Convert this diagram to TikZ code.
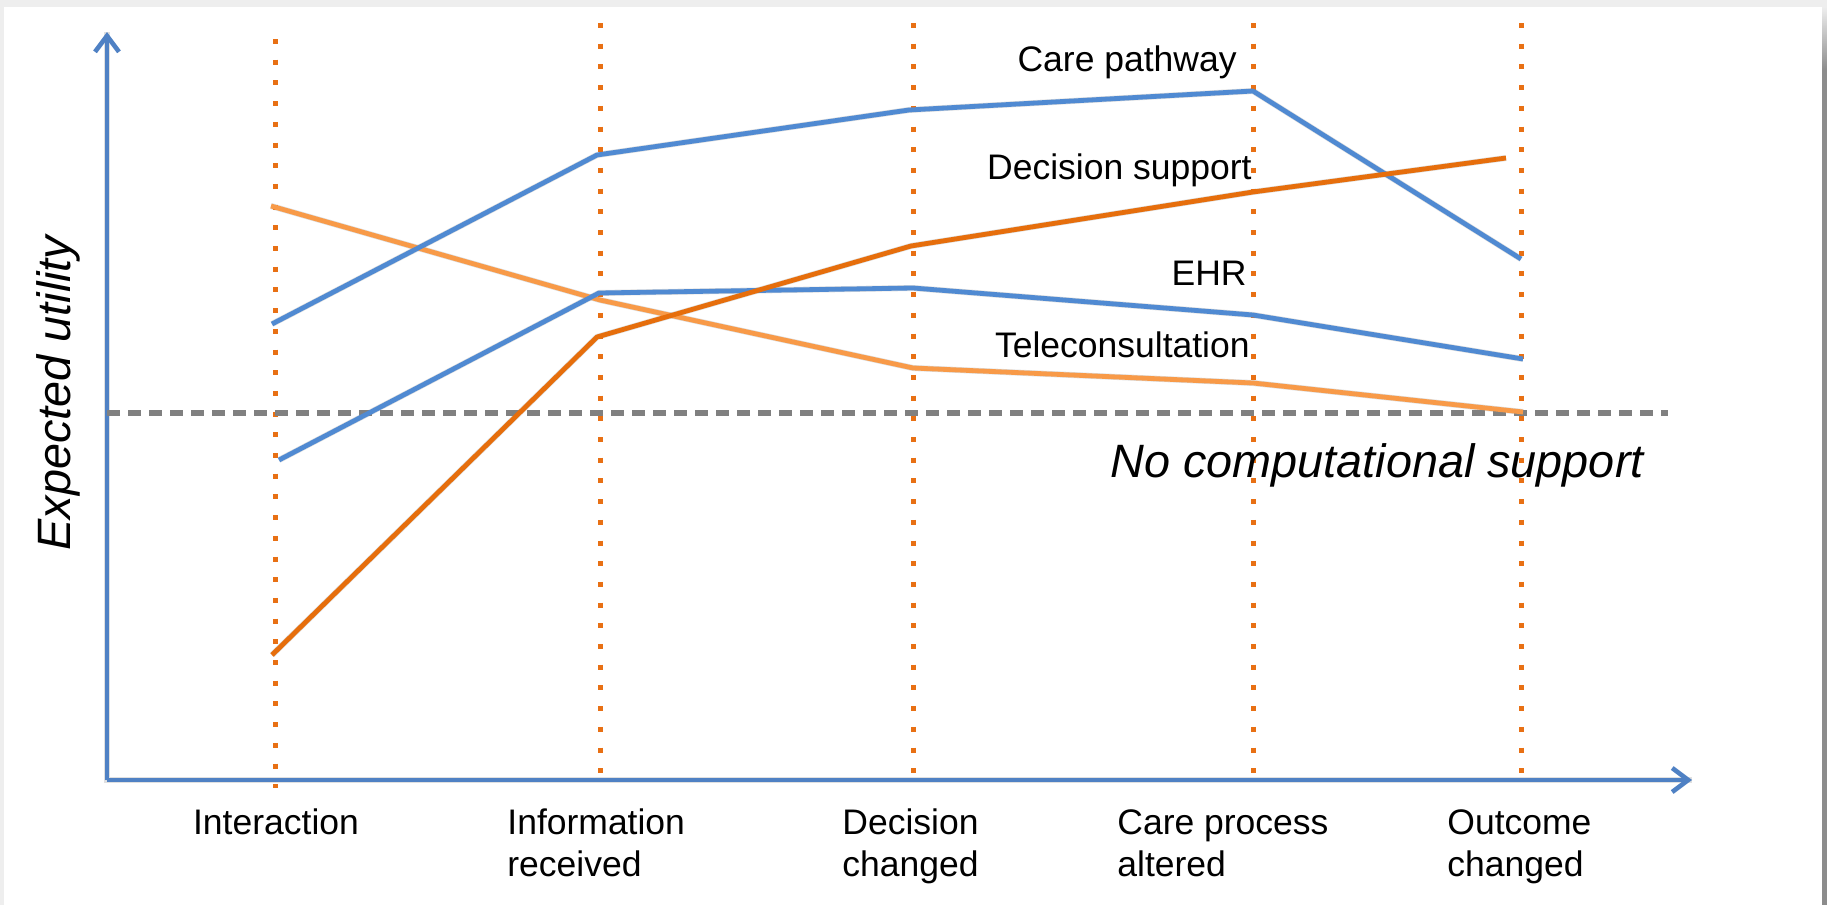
\documentclass[tikz,border=0pt]{standalone}
\usepackage{fontspec}
\setmainfont{Liberation Sans}
\usetikzlibrary{arrows.meta}
\definecolor{cblue}{RGB}{80,138,210}
\definecolor{axblue}{RGB}{79,129,196}
\definecolor{dorange}{RGB}{230,110,12}
\definecolor{lorange}{RGB}{248,154,72}
\definecolor{dotorange}{RGB}{232,112,20}
\definecolor{dashgray}{RGB}{128,128,128}
\definecolor{framegray}{RGB}{238,238,238}
\definecolor{edgegray}{RGB}{140,140,140}
\begin{document}
\begin{tikzpicture}[x=0.5pt,y=-0.5pt,
  series/.style={line width=2.4pt, line join=round},
  shadowline/.style={line width=3pt, line join=round, black, opacity=0.13},
  guide/.style={dotorange, line width=2.5pt, dash pattern=on 2.5pt off 7.85pt},
  axisline/.style={axblue, line width=2.3pt, -{Straight Barb[length=8pt,width=12pt,line width=2.3pt]}},
  axisshadow/.style={black, opacity=0.12, line width=2.6pt},
  nocomp/.style={dashgray, line width=2.8pt, dash pattern=on 6.5pt off 4pt},
  lab/.style={font=\fontsize{17.75pt}{21pt}\selectfont, inner sep=0pt},
  biglab/.style={font=\fontsize{23.4pt}{27pt}\selectfont\itshape, inner sep=0pt}]
\useasboundingbox (0,0) rectangle (1827,905);
\fill[white] (0,0) rectangle (1827,905);
% frame bands
\fill[framegray] (0,0) rectangle (1827,7);
\fill[framegray] (0,0) rectangle (4,905);
\shade[top color=framegray, bottom color=edgegray] (1822,7) rectangle (1827,70);
\fill[edgegray] (1822,70) rectangle (1827,905);

% stage coordinates
\coordinate (g1t) at (275,39);  \coordinate (g1b) at (275,788);
\coordinate (g2t) at (600,23);  \coordinate (g2b) at (600,776);
\coordinate (g3t) at (913,23);  \coordinate (g3b) at (913,776);
\coordinate (g4t) at (1253,23); \coordinate (g4b) at (1253,776);
\coordinate (g5t) at (1521,23); \coordinate (g5b) at (1521,776);

% data points
\coordinate (cp1) at (272,324); \coordinate (cp2) at (597,155); \coordinate (cp3) at (909,110); \coordinate (cp4) at (1253,91); \coordinate (cp5) at (1521,259);
\coordinate (ds1) at (272,655); \coordinate (ds2) at (597,337); \coordinate (ds3) at (911,246); \coordinate (ds4) at (1253,192); \coordinate (ds5) at (1506,158);
\coordinate (eh1) at (279,460); \coordinate (eh2) at (599,293); \coordinate (eh3) at (913,288); \coordinate (eh4) at (1253,315); \coordinate (eh5) at (1523,359);
\coordinate (tc1) at (271,206); \coordinate (tc2) at (600,300); \coordinate (tc3) at (913,368); \coordinate (tc4) at (1253,383); \coordinate (tc5) at (1523,412);

% axes
\coordinate (org) at (107,780);
\coordinate (ytop) at (107,32);
\coordinate (xend) at (1692,780);
\coordinate (nc1) at (107,413);
\coordinate (nc2) at (1668,413);

% shadows
\begin{scope}[shift={(2,4)}]
  \draw[axisshadow] (ytop) -- (org) -- (xend);
  \draw[shadowline] (cp1) -- (cp2) -- (cp3) -- (cp4) -- (cp5);
  \draw[shadowline] (ds1) -- (ds2) -- (ds3) -- (ds4) -- (ds5);
  \draw[shadowline] (eh1) -- (eh2) -- (eh3) -- (eh4) -- (eh5);
  \draw[shadowline] (tc1) -- (tc2) -- (tc3) -- (tc4) -- (tc5);
\end{scope}

% guides
\foreach \i in {1,...,5} { \draw[guide] (g\i t) -- (g\i b); }

% axes
\draw[axisline] (org) -- (ytop);
\draw[axisline] (org) -- (xend);

% baseline
\draw[nocomp] (nc1) -- (nc2);

% series
\draw[series, lorange] (tc1) -- (tc2) -- (tc3) -- (tc4) -- (tc5);
\draw[series, cblue] (cp1) -- (cp2) -- (cp3) -- (cp4) -- (cp5);
\draw[series, cblue] (eh1) -- (eh2) -- (eh3) -- (eh4) -- (eh5);
\draw[series, dorange] (ds1) -- (ds2) -- (ds3) -- (ds4) -- (ds5);

% series labels
\node[lab, anchor=base east] (lcp) at (1237,71) {Care pathway};
\node[lab, anchor=base east] (lds) at (1252,179) {Decision support};
\node[lab, anchor=base east] (leh) at (1247,285) {EHR};
\node[lab, anchor=base east] (ltc) at (1250,357) {Teleconsultation};
\node[biglab, anchor=base west] (lnc) at (1110,477) {No computational support};

% axis title
\node[biglab, rotate=90, anchor=base] (ylab) at (70,393) {Expected utility};

% stage labels
\node[lab, anchor=base] (s1) at (276,834) {Interaction};
\node[lab, anchor=base west] (s2a) at (507,834) {Information};
\node[lab, anchor=base west] (s2b) at (507,876) {received};
\node[lab, anchor=base west] (s3a) at (842,834) {Decision};
\node[lab, anchor=base west] (s3b) at (842,876) {changed};
\node[lab, anchor=base west] (s4a) at (1117,834) {Care process};
\node[lab, anchor=base west] (s4b) at (1117,876) {altered};
\node[lab, anchor=base west] (s5a) at (1447,834) {Outcome};
\node[lab, anchor=base west] (s5b) at (1447,876) {changed};
\end{tikzpicture}
\end{document}
